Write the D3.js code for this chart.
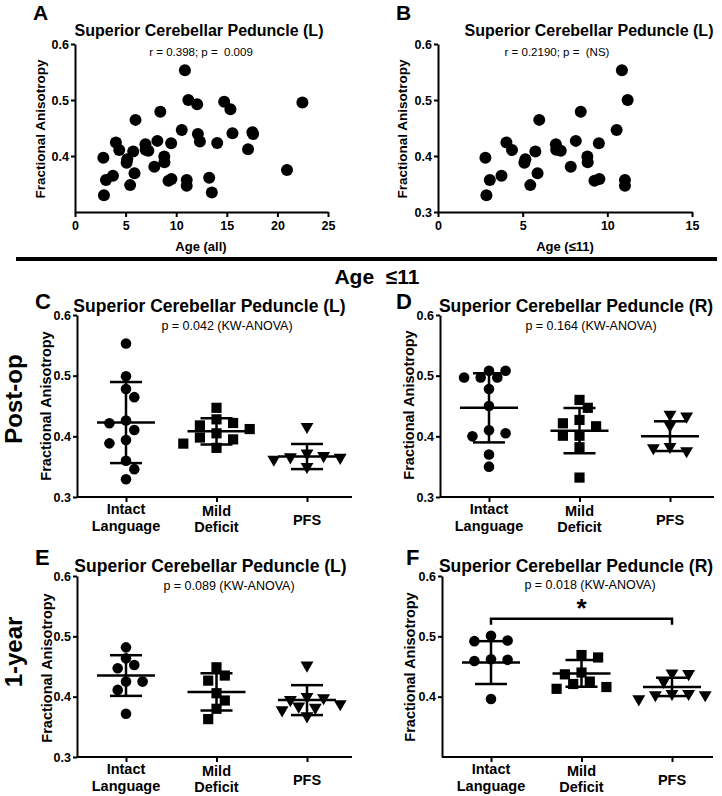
<!DOCTYPE html>
<html><head><meta charset="utf-8">
<script src="https://cdn.jsdelivr.net/npm/d3@7"></script>
<style>
html,body{margin:0;padding:0;background:#fff;}
svg{display:block;font-family:"Liberation Sans",Arial,Helvetica,sans-serif;}
</style></head><body>
<svg id="chart" width="722" height="796"></svg>
<script>
// ---------------- DATA ----------------
const agesAll = [10.86, 11.2, 12.07, 14.74, 15.36, 22.47, 5.98, 8.43, 10.55, 12.14, 12.34, 14.05, 15.56, 17.53, 17.6, 17.1, 20.95, 9.5, 8.14, 6.96, 7.25, 6.98, 4.04, 4.37, 2.8, 5.75, 5.16, 5.1, 8.82, 8.84, 7.84, 3.06, 3.75, 5.88, 5.45, 2.86, 9.24, 9.53, 11.04, 11.04, 13.26, 13.52];
const faAll = [0.553, 0.500, 0.4925, 0.497, 0.4836, 0.4955, 0.4645, 0.479, 0.4466, 0.4394, 0.4257, 0.4233, 0.4406, 0.4424, 0.4394, 0.4119, 0.375, 0.4227, 0.427, 0.421, 0.4095, 0.411, 0.424, 0.4107, 0.397, 0.408, 0.394, 0.388, 0.399, 0.389, 0.381, 0.357, 0.3648, 0.369, 0.348, 0.330, 0.356, 0.359, 0.357, 0.347, 0.3612, 0.335];

const ageTicksAll = [0, 5, 10, 15, 20, 25];
const ageTicksYoung = [0, 5, 10, 15];
const faTicksFull = [0.3, 0.4, 0.5, 0.6];
const faTicksNo03 = [0.4, 0.5, 0.6];

const groups = ["Intact Language", "Mild Deficit", "PFS"];
const groupLines = [["Intact", "Language"], ["Mild", "Deficit"], ["PFS"]];

// Panel C: Post-op, SCP (L)
const cIntact = [0.553, 0.499, 0.478, 0.4646, 0.426, 0.4215, 0.4105, 0.394, 0.3884, 0.3597, 0.3459, 0.3293];
const cMild = [0.447, 0.428, 0.422, 0.418, 0.412, 0.405, 0.398, 0.395, 0.388, 0.381];
const cPfs = [0.416, 0.372, 0.368, 0.366, 0.365, 0.362, 0.350];
const cMeans = [0.4227, 0.4083, 0.3667];
const cSds = [0.0668, 0.0217, 0.0207];
// Panel D: Post-op, SCP (R)
const dIntact = [0.508, 0.508, 0.497, 0.497, 0.497, 0.478, 0.450, 0.410, 0.405, 0.400, 0.370, 0.350];
const dMild = [0.460, 0.447, 0.427, 0.4215, 0.4166, 0.401, 0.401, 0.382, 0.332];
const dPfs = [0.436, 0.433, 0.418, 0.383, 0.381, 0.376];
const dMeans = [0.447, 0.4094, 0.4003];
const dSds = [0.057, 0.0372, 0.0245];
// Panel E: 1-year, SCP (L)
const eIntact = [0.4817, 0.4635, 0.4525, 0.447, 0.425, 0.425, 0.4112, 0.3716];
const eMild = [0.4487, 0.435, 0.4266, 0.4057, 0.3936, 0.3799, 0.3628];
const ePfs = [0.452, 0.400, 0.398, 0.395, 0.388, 0.384, 0.382, 0.378, 0.368];
const eMeans = [0.435, 0.4079, 0.3943];
const eSds = [0.0337, 0.0308, 0.0248];
// Panel F: 1-year, SCP (R)
const fIntact = [0.501, 0.493, 0.492, 0.462, 0.461, 0.459, 0.396];
const fMild = [0.469, 0.465, 0.440, 0.437, 0.425, 0.421, 0.416, 0.413];
const fPfs = [0.439, 0.438, 0.425, 0.405, 0.405, 0.403, 0.403, 0.396];
const fMeans = [0.4565, 0.4386, 0.4162];
const fSds = [0.0355, 0.022, 0.0152];
const fSignificance = [{from: "Intact Language", to: "PFS", level: 0.529, label: "*"}];

const titleL = "Superior Cerebellar Peduncle (L)";
const titleR = "Superior Cerebellar Peduncle (R)";
const statA = "r = 0.398; p =  0.009";
const statB = "r = 0.2190; p =  (NS)";
const statC = "p = 0.042 (KW-ANOVA)";
const statD = "p = 0.164 (KW-ANOVA)";
const statE = "p = 0.089 (KW-ANOVA)";
const statF = "p = 0.018 (KW-ANOVA)";

// ---------------- DRAWING ----------------
const svg = d3.select("#chart");
const fmt = d3.format(".1f");

function txt(x, y, s, size, weight, anchor, rot) {
  const t = svg.append("text")
    .attr("font-size", size).attr("font-weight", weight || "bold")
    .attr("text-anchor", anchor || "middle").attr("fill", "#000")
    .style("white-space", "pre")
    .text(s);
  if (rot) t.attr("transform", `translate(${x},${y}) rotate(${rot})`);
  else t.attr("x", x).attr("y", y);
  return t;
}

function styleAxis(g, size) {
  g.selectAll("path.domain").attr("stroke", "#000").attr("stroke-width", 2);
  g.selectAll(".tick line").attr("stroke", "#000").attr("stroke-width", 2);
  g.selectAll(".tick text").attr("font-size", size).attr("font-weight", "bold")
    .attr("fill", "#000").attr("font-family", '"Liberation Sans",Arial,sans-serif');
}

function yAxis(y, x0, ticks, size) {
  const g = svg.append("g").attr("transform", `translate(${x0},0)`)
    .call(d3.axisLeft(y).tickValues(ticks).tickFormat(fmt).tickSize(4).tickSizeOuter(0).tickPadding(2));
  styleAxis(g, size);
}

function scatterPanel(o) {
  const x = d3.scaleLinear().domain([0, o.xTicks[o.xTicks.length - 1]]).range([o.x0, o.x1]);
  const y = d3.scaleLinear().domain([0.3, 0.6]).range([o.y0, o.y1]);
  const gx = svg.append("g").attr("transform", `translate(0,${o.y0})`)
    .call(d3.axisBottom(x).tickValues(o.xTicks).tickSize(5).tickSizeOuter(0).tickPadding(4));
  styleAxis(gx, 12.5);
  yAxis(y, o.x0, o.yTicks, 12.5);
  svg.append("g").selectAll("circle").data(o.pts).join("circle")
    .attr("cx", d => x(d[0])).attr("cy", d => y(d[1])).attr("r", 6).attr("fill", "#000");
}

function swarm(values, y, step, minDist) {
  const order = values.map((v, i) => i).sort((a, b) => values[b] - values[a]);
  const placed = [], off = new Array(values.length);
  let preferRight = true;
  for (const i of order) {
    const py = y(values[i]);
    for (let k = 0; k < 30; k++) {
      const m = Math.ceil(k / 2);
      const sgn = k === 0 ? 0 : (((k % 2 === 1) === preferRight) ? 1 : -1);
      const dx = sgn * m * step;
      if (placed.every(p => Math.hypot(p.dx - dx, p.py - py) >= minDist)) {
        off[i] = dx; placed.push({dx, py});
        if (sgn !== 0) preferRight = sgn < 0;
        break;
      }
    }
  }
  return off;
}

const shapes = [
  d3.symbol().type(d3.symbolCircle).size(88),
  d3.symbol().type(d3.symbolSquare).size(104),
  d3.symbol().type(d3.symbolTriangle).size(72)
];

function dotPanel(o) {
  const y = d3.scaleLinear().domain([0.3, 0.6]).range([o.y0, o.y1]);
  const x = d3.scalePoint().domain(groups).range([o.x0 + 49, o.x0 + 230]);
  svg.append("line").attr("x1", o.x0).attr("x2", o.x1).attr("y1", o.y0).attr("y2", o.y0)
    .attr("stroke", "#000").attr("stroke-width", 2);
  const gx = svg.append("g").attr("transform", `translate(0,${o.y0})`)
    .call(d3.axisBottom(x).tickSize(5).tickSizeOuter(0).tickFormat(""));
  gx.select("path.domain").remove();
  styleAxis(gx, 15);
  const lineOff = [[17, 34], [18.5, 35.2], [28]];
  groups.forEach((gname, gi) => {
    const t = svg.append("text").attr("text-anchor", "middle").attr("font-size", 14.5)
      .attr("font-weight", "bold").attr("fill", "#000");
    groupLines[gi].forEach((ln, li) => {
      t.append("tspan").attr("x", x(gname)).attr("y", o.y0 + lineOff[gi][li]).text(ln);
    });
  });
  yAxis(y, o.x0, o.yTicks, 12.5);
  o.sets.forEach((vals, gi) => {
    const offs = swarm(vals, y, 8.3, 10.5);
    svg.append("g").selectAll("path").data(vals).join("path")
      .attr("d", shapes[gi])
      .attr("transform", (d, i) => `translate(${x(groups[gi]) + offs[i]},${y(d)})${gi === 2 ? " rotate(180)" : ""}`)
      .attr("fill", "#000");
  });
  const g = svg.append("g").attr("stroke", "#000").attr("stroke-width", 2.5);
  groups.forEach((gname, gi) => {
    const cx = x(gname), m = o.means[gi], s = o.sds[gi];
    g.append("line").attr("x1", cx - 29).attr("x2", cx + 29).attr("y1", y(m)).attr("y2", y(m));
    g.append("line").attr("x1", cx).attr("x2", cx).attr("y1", y(m - s)).attr("y2", y(m + s));
    g.append("line").attr("x1", cx - 16).attr("x2", cx + 16).attr("y1", y(m + s)).attr("y2", y(m + s));
    g.append("line").attr("x1", cx - 16).attr("x2", cx + 16).attr("y1", y(m - s)).attr("y2", y(m - s));
  });
  (o.sig || []).forEach(sg => {
    const xa = x(sg.from), xb = x(sg.to), yy = y(sg.level);
    svg.append("path").attr("d", `M${xa},${yy + 6}V${yy}H${xb}V${yy + 6}`)
      .attr("fill", "none").attr("stroke", "#000").attr("stroke-width", 2.5);
    txt((xa + xb) / 2, yy - 2, sg.label, 26, "bold");
  });
}

// Panel A
scatterPanel({x0: 75, x1: 328, y0: 212, y1: 44, xTicks: ageTicksAll, yTicks: faTicksNo03,
  pts: agesAll.map((a, i) => [a, faAll[i]])});
txt(33, 20, "A", 21, "bold", "start");
txt(199, 36, titleL, 16);
txt(201, 56, statA, 11.5, "normal");
txt(45, 129, "Fractional Anisotropy", 13.5, "bold", "middle", -90);
txt(201, 251, "Age (all)", 13);

// Panel B
scatterPanel({x0: 438, x1: 692, y0: 212, y1: 44, xTicks: ageTicksYoung, yTicks: faTicksFull,
  pts: agesAll.map((a, i) => [a, faAll[i]]).filter(d => Math.round(d[0]) <= 11)});
txt(396, 20, "B", 21, "bold", "start");
txt(589, 36, titleL, 16);
txt(557, 56, statB, 11.5, "normal");
txt(407, 129, "Fractional Anisotropy", 13.5, "bold", "middle", -90);
txt(565, 251, "Age (\u226411)", 13);

// divider
svg.append("line").attr("x1", 16).attr("x2", 717).attr("y1", 259).attr("y2", 259)
  .attr("stroke", "#000").attr("stroke-width", 4);
txt(377, 284, "Age  \u226411", 21);

// row labels
txt(22, 399, "Post-op", 24, "bold", "middle", -90);
txt(22, 652, "1-year", 24, "bold", "middle", -90);

// Panel C
dotPanel({x0: 77, x1: 352, y0: 497, y1: 315, yTicks: faTicksFull, sets: [cIntact, cMild, cPfs], means: cMeans, sds: cSds});
txt(35, 309, "C", 22, "bold", "start");
txt(209.5, 312, titleL, 17.5);
txt(227, 329.5, statC, 12.5, "normal");
txt(51, 406, "Fractional Anisotropy", 14.5, "bold", "middle", -90);

// Panel D
dotPanel({x0: 440, x1: 714, y0: 497, y1: 315, yTicks: faTicksFull, sets: [dIntact, dMild, dPfs], means: dMeans, sds: dSds});
txt(396, 309, "D", 22, "bold", "start");
txt(576, 312, titleR, 17.5);
txt(591, 329.5, statD, 12.5, "normal");
txt(414, 405, "Fractional Anisotropy", 14.5, "bold", "middle", -90);

// Panel E
dotPanel({x0: 77, x1: 352, y0: 757, y1: 576, yTicks: faTicksFull, sets: [eIntact, eMild, ePfs], means: eMeans, sds: eSds});
txt(35, 565, "E", 22, "bold", "start");
txt(210.5, 572, titleL, 17.5);
txt(229, 589.5, statE, 12.5, "normal");
txt(52, 668, "Fractional Anisotropy", 14.5, "bold", "middle", -90);

// Panel F
dotPanel({x0: 442, x1: 713, y0: 757, y1: 576, yTicks: faTicksNo03, sets: [fIntact, fMild, fPfs], means: fMeans, sds: fSds, sig: fSignificance});
txt(406, 565, "F", 22, "bold", "start");
txt(576, 572, titleR, 17.5);
txt(590, 588.5, statF, 12.5, "normal");
txt(415, 667, "Fractional Anisotropy", 14.5, "bold", "middle", -90);
</script>
</body></html>
